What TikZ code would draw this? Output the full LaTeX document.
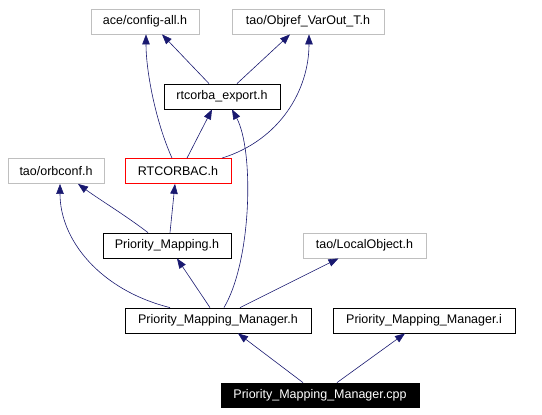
\documentclass[tikz,border=0pt]{standalone}
\usepackage{fontspec}
\setmainfont{Liberation Sans}
\usetikzlibrary{arrows.meta}
\definecolor{edgecol}{HTML}{191970}
\definecolor{graybd}{HTML}{BFBFBF}
\begin{document}
\begin{tikzpicture}[x=1pt,y=-1pt,
  box/.style={draw=black,line width=0.8pt,inner sep=0pt,minimum height=25pt,font=\fontsize{12.5}{15}\selectfont},
  ext/.style={box,draw=graybd},
  cur/.style={box,draw=red},
  main/.style={box,fill=black,text=white},
  dep/.style={draw=edgecol,line width=0.6pt,-{Triangle[length=10pt,width=7.5pt]}}]
\useasboundingbox (0,0) rectangle (542,415);
\node[ext,minimum width=108pt] (ace) at (145,21.5) {ace/config-all.h};
\node[ext,minimum width=152pt] (objref) at (308,21.5) {tao/Objref\_VarOut\_T.h};
\node[box,minimum width=116pt] (rtexp) at (222,96.5) {rtcorba\_export.h};
\node[ext,minimum width=96pt] (orbconf) at (56,171) {tao/orbconf.h};
\node[cur,minimum width=106pt] (rtc) at (178,171) {RTCORBAC.h};
\node[box,minimum width=128pt] (pm) at (167,245.5) {Priority\_Mapping.h};
\node[ext,minimum width=123pt] (lo) at (364.5,245.5) {tao/LocalObject.h};
\node[box,minimum width=186pt] (pmmh) at (218,320.5) {Priority\_Mapping\_Manager.h};
\node[box,minimum width=182pt] (pmmi) at (424,320.5) {Priority\_Mapping\_Manager.i};
\node[main,minimum width=198pt,minimum height=24pt] (cpp) at (320,395) {Priority\_Mapping\_Manager.cpp};
\draw[dep] ([xshift=-17pt]cpp.north) -- ([xshift=20pt]pmmh.south);
\draw[dep] ([xshift=17pt]cpp.north) -- ([xshift=-19pt]pmmi.south);
\draw[dep] ([xshift=-8pt]pmmh.north) -- ([xshift=10pt]pm.south);
\draw[dep] ([xshift=22pt]pmmh.north) -- ([xshift=-26pt]lo.south);
\draw[dep] ([xshift=-48pt]pmmh.north) .. controls (100,290) and (60,240) .. ([xshift=4pt]orbconf.south);
\draw[dep] ([xshift=6pt]pmmh.north) .. controls (252,260) and (254,150) .. ([xshift=10pt]rtexp.south);
\draw[dep] ([xshift=-19pt]pm.north) .. controls (125,215) and (100,200) .. ([xshift=22pt]orbconf.south);
\draw[dep] ([xshift=3pt]pm.north) -- ([xshift=-3pt]rtc.south);
\draw[dep] ([xshift=-6pt]rtc.north) .. controls (155,120) and (146,70) .. ([xshift=1pt]ace.south);
\draw[dep] ([xshift=9pt]rtc.north) -- ([xshift=-10pt]rtexp.south);
\draw[dep] ([xshift=44pt]rtc.north) .. controls (280,140) and (309,90) .. ([xshift=1pt]objref.south);
\draw[dep] ([xshift=-13pt]rtexp.north) -- ([xshift=17pt]ace.south);
\draw[dep] ([xshift=15pt]rtexp.north) -- ([xshift=-18pt]objref.south);
\end{tikzpicture}
\end{document}
